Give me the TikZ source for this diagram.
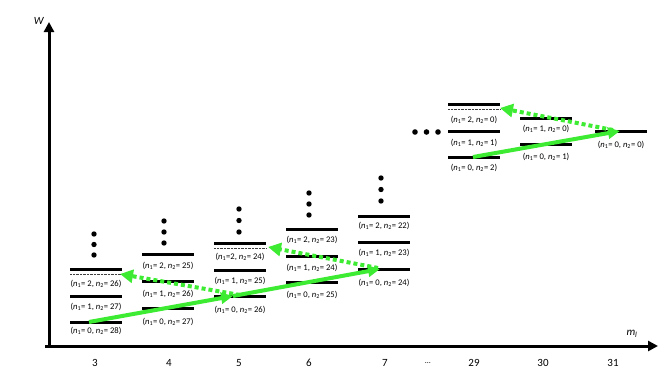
\documentclass[tikz,border=0pt]{standalone}
\usepackage{fontspec}
\setmainfont{Carlito}
\usetikzlibrary{arrows.meta}
\definecolor{pumpgreen}{RGB}{60,235,50}
\newcommand{\nA}{\textit{n}\textsubscript{1}}
\newcommand{\nB}{\textit{n}\textsubscript{2}}
\tikzset{
  axis line/.style={
    line width=3pt,
    -{Triangle[length=10pt,width=10pt]}
  },
  axis label/.style={
    font=\fontsize{11}{12}\selectfont,
    inner sep=0pt
  },
  tick label/.style={
    font=\fontsize{11}{12}\selectfont,
    inner sep=0pt
  },
  energy level/.style={
    line width=3pt
  },
  sub level/.style={
    line width=0.4pt,
    densely dotted,
    black!75
  },
  level label/.style={
    font=\fontsize{8.6}{9}\selectfont,
    inner sep=0pt
  },
  pump arrow/.style={
    draw=pumpgreen,
    line width=4pt,
    -{Triangle[length=12pt,width=11pt,fill=pumpgreen]}
  },
  return arrow/.style={
    draw=pumpgreen,
    line width=4pt,
    dash pattern=on 4pt off 3pt,
    -{Triangle[length=13pt,width=13pt,fill=pumpgreen]}
  }
}

\begin{document}
\begin{tikzpicture}[x=1pt,y=-1pt]
  \useasboundingbox (0,0) rectangle (667,375);

  % ---------- axes ----------
  \draw[axis line] (45,346) -- (658,346);
  \draw[axis line] (49,348) -- (49,22);
  \node[axis label] (W) at (39,21) {\textit{W}};
  \node[axis label] (ml) at (632,334) {\textit{m}\textsubscript{\textit{l}}};

  \node[tick label] (t3) at (95,363) {3};
  \node[tick label] (t4) at (169,363) {4};
  \node[tick label] (t5) at (239,363) {5};
  \node[tick label] (t6) at (309,363) {6};
  \node[tick label] (t7) at (385,363) {7};
  \node[tick label] (tdots) at (428,363) {\fontsize{8}{9}\selectfont …};
  \node[tick label] (t29) at (474,363) {29};
  \node[tick label] (t30) at (543,363) {30};
  \node[tick label] (t31) at (613,363) {31};

  % ---------- m_l = 3 ----------
  \fill (94,234) circle (2.7) (94,244.5) circle (2.7) (94,255) circle (2.7);
  \draw[energy level] (70,269) -- (122,269);
  \draw[sub level] (70,274.5) -- (122,274.5);
  \draw[energy level] (70,296) -- (122,296);
  \draw[energy level] (70,322) -- (122,322);
  \node[level label] (L3c) at (96,284) {(\nA= 2, \nB= 26)};
  \node[level label] (L3b) at (96,307) {(\nA= 1, \nB= 27)};
  \node[level label] (L3a) at (96,331) {(\nA= 0, \nB= 28)};

  % ---------- m_l = 4 ----------
  \fill (164,221) circle (2.7) (164,232) circle (2.7) (164,243) circle (2.7);
  \draw[energy level] (142,254) -- (194,254);
  \draw[energy level] (142,281) -- (194,281);
  \draw[energy level] (142,308) -- (194,308);
  \node[level label] (L4c) at (168,266) {(\nA= 2, \nB= 25)};
  \node[level label] (L4b) at (168,294) {(\nA= 1, \nB= 26)};
  \node[level label] (L4a) at (168,322) {(\nA= 0, \nB= 27)};

  % ---------- m_l = 5 ----------
  \fill (239,209) circle (2.7) (239,220.5) circle (2.7) (239,232) circle (2.7);
  \draw[energy level] (214,243) -- (266,243);
  \draw[sub level] (214,248) -- (266,248);
  \draw[energy level] (214,270) -- (266,270);
  \draw[energy level] (214,296) -- (266,296);
  \node[level label] (L5c) at (240,257) {(\nA=2, \nB= 24)};
  \node[level label] (L5b) at (240,281) {(\nA= 1, \nB= 25)};
  \node[level label] (L5a) at (240,310) {(\nA= 0, \nB= 26)};

  % ---------- m_l = 6 ----------
  \fill (309,193) circle (2.7) (309,204) circle (2.7) (309,215) circle (2.7);
  \draw[energy level] (286,229) -- (338,229);
  \draw[energy level] (286,256) -- (338,256);
  \draw[energy level] (286,282) -- (338,282);
  \node[level label] (L6c) at (312,240) {(\nA= 2, \nB= 23)};
  \node[level label] (L6b) at (312,268) {(\nA= 1, \nB= 24)};
  \node[level label] (L6a) at (312,295) {(\nA= 0, \nB= 25)};

  % ---------- m_l = 7 ----------
  \fill (381,178) circle (2.7) (381,189.5) circle (2.7) (381,201) circle (2.7);
  \draw[energy level] (358,216) -- (410,216);
  \draw[energy level] (358,242) -- (410,242);
  \draw[energy level] (358,269) -- (410,269);
  \node[level label] (L7c) at (384,226) {(\nA= 2, \nB= 22)};
  \node[level label] (L7b) at (384,253) {(\nA= 1, \nB= 23)};
  \node[level label] (L7a) at (384,283) {(\nA= 0, \nB= 24)};

  % luecke
  \fill (415,132) circle (2.8) (426.5,132) circle (2.8) (438,132) circle (2.8);

  % ---------- m_l = 29 ----------
  \draw[energy level] (448,104) -- (500,104);
  \draw[sub level] (448,109) -- (500,109);
  \draw[energy level] (448,131) -- (500,131);
  \draw[energy level] (448,157) -- (500,157);
  \node[level label] (L29c) at (474,120) {(\nA= 2, \nB= 0)};
  \node[level label] (L29b) at (474,143) {(\nA= 1, \nB= 1)};
  \node[level label] (L29a) at (474,168) {(\nA= 0, \nB= 2)};

  % ---------- m_l = 30 ----------
  \draw[energy level] (520,118) -- (572,118);
  \draw[energy level] (520,144) -- (572,144);
  \node[level label] (L30b) at (546,129) {(\nA= 1, \nB= 0)};
  \node[level label] (L30a) at (546,157) {(\nA= 0, \nB= 1)};

  % ---------- m_l = 31 ----------
  \draw[energy level] (595,131) -- (647,131);
  \node[level label] (L31a) at (621,145) {(\nA= 0, \nB= 0)};

  % Uebergaenge
  \coordinate (p3) at (89,322);
  \coordinate (p5) at (233,296);
  \coordinate (p7) at (380,269);
  \coordinate (q5) at (240,295);
  \coordinate (q7) at (378,268);
  \coordinate (r3) at (120,274);
  \coordinate (r5) at (268,247);
  \coordinate (p29) at (473,157);
  \coordinate (p31) at (620,131);
  \coordinate (q31) at (613,130);
  \coordinate (r29) at (500,108);

  \draw[return arrow] (q5) -- (r3);
  \draw[return arrow] (q7) -- (r5);
  \draw[return arrow] (q31) -- (r29);

  \draw[pump arrow] (p3) -- (p5);
  \draw[pump arrow] (p5) -- (p7);
  \draw[pump arrow] (p29) -- (p31);

\end{tikzpicture}
\end{document}
